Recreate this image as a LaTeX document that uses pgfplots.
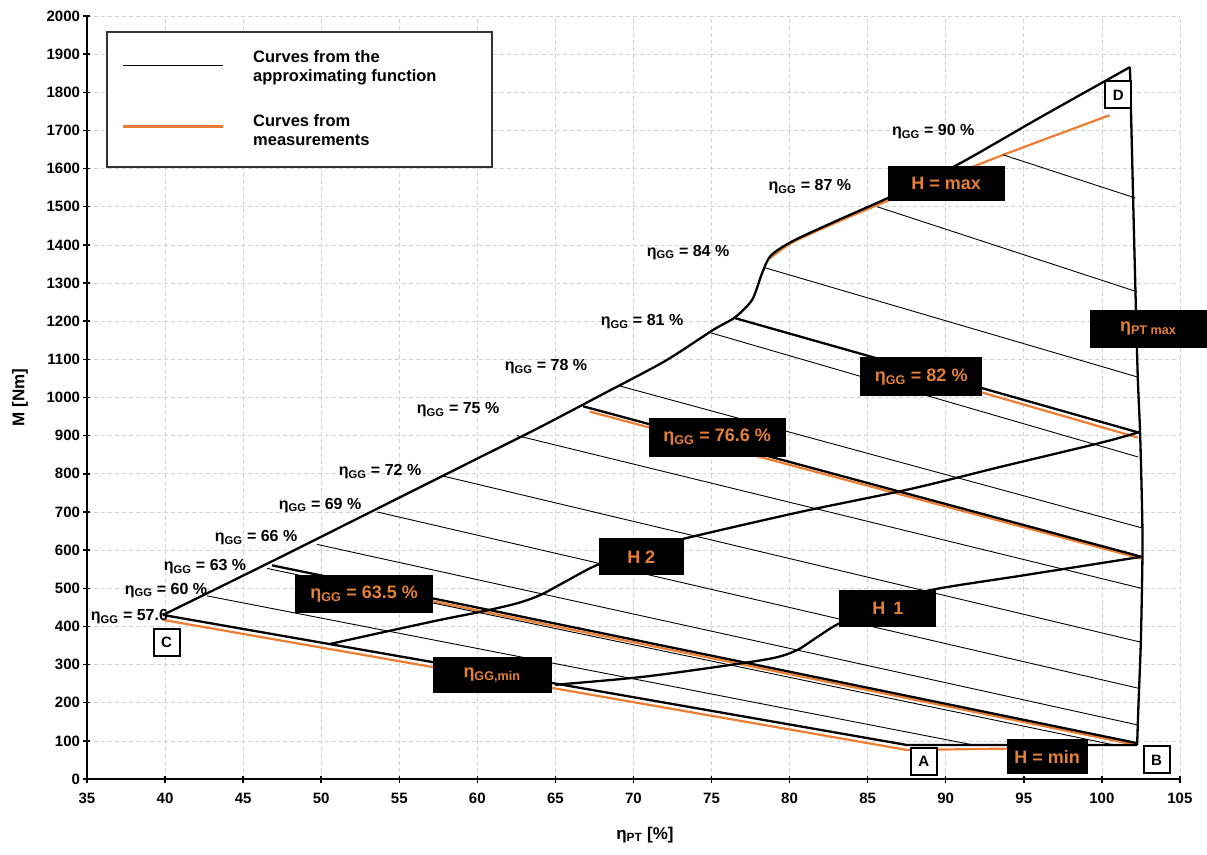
\documentclass[border=0pt]{standalone}
\usepackage{fontspec}
\setmainfont{Liberation Sans}
\usepackage{pgfplots}
\pgfplotsset{compat=1.18}
\definecolor{meas}{RGB}{237,125,49}
\definecolor{boxtxt}{RGB}{228,128,56}
\newcommand{\eG}{η\textsubscript{GG}}
\begin{document}
\begin{tikzpicture}[
  lbl/.style={font=\bfseries\fontsize{16}{18}\selectfont, inner sep=0pt, anchor=center},
  bx/.style={fill=black, text=boxtxt, font=\bfseries\fontsize{18}{20}\selectfont, inner sep=2pt, minimum height=36pt, anchor=center},
  wb/.style={draw=black, line width=2pt, fill=white, font=\bfseries\fontsize{15}{17}\selectfont, inner sep=0pt, minimum width=26pt, minimum height=27pt, anchor=center},
  thinl/.style={black, line width=0.9pt},
  thickl/.style={black, line width=2.3pt},
  orl/.style={meas, line width=2.2pt},
]
\begin{axis}[
  scale only axis, width=1093pt, height=763pt,
  xmin=35, xmax=105, ymin=0, ymax=2000,
  xtick={35,40,...,105}, ytick={0,100,...,2000},
  axis lines=left,
  axis line style={-, line width=2.5pt, black},
  tick align=center, major tick length=7pt,
  tick style={line width=1.5pt, black},
  grid=major,
  major grid style={gray!35, line width=0.6pt, dash pattern=on 4pt off 3pt},
  /pgf/number format/assume math mode=true,
  /pgf/number format/1000 sep={},
  ticklabel style={font=\bfseries\fontsize{15}{17}\selectfont},
  xticklabel style={yshift=-7pt},
  xlabel={η\textsubscript{PT} [\%]},
  ylabel={M [Nm]},
  xlabel style={font=\bfseries\fontsize{17}{19}\selectfont, at={(axis description cs:0.5105,-0.0734)}, anchor=center},
  ylabel style={font=\bfseries\fontsize{17}{19}\selectfont, at={(axis description cs:-0.0613,0.5)}, anchor=center},
  clip=false,
]
% ---- measured curves (orange) ----
\addplot[orl] coordinates {(39.87,417) (87.53,76) (94.5,80)};
\addplot[orl] coordinates {(52,509) (102.1,90)};
\addplot[orl] coordinates {(67.2,963) (102.5,578)};
\addplot[orl] coordinates {(86,1088) (102.3,895)};
\addplot[orl, smooth, tension=0.4] coordinates {(78.7,1364) (80.2,1407) (83,1459) (86.3,1516) (89,1560) (93.68,1636) (100.5,1740)};
% ---- approximating function (thin black) ----
\addplot[thinl] coordinates {(42.69,480) (91.8,89)};
\addplot[thinl] coordinates {(46.53,552) (100.8,89)};
\addplot[thinl] coordinates {(49.73,615) (102.26,142)};
\addplot[thinl] coordinates {(53.58,700) (102.33,238)};
\addplot[thinl] coordinates {(57.81,794) (102.46,359)};
\addplot[thinl] coordinates {(62.55,900) (102.52,500)};
\addplot[thinl] coordinates {(69.14,1030) (102.58,658)};
\addplot[thinl] coordinates {(74.91,1170) (102.33,844)};
\addplot[thinl] coordinates {(78.43,1340) (102.26,1054)};
\addplot[thinl] coordinates {(85.61,1500) (102.26,1277)};
\addplot[thinl] coordinates {(93.68,1636) (102.14,1523)};
% ---- thick black curves ----
\addplot[thickl] coordinates {(46.85,560) (102.26,94)};
\addplot[thickl] coordinates {(66.77,977) (102.58,582)};
\addplot[thickl] coordinates {(76.51,1208) (102.46,907)};
\addplot[thickl, smooth, tension=0.45] coordinates {(39.87,430) (44,513) (48,594) (52,676) (56,758) (60,840) (64,922) (68,1008) (72,1095) (75.1,1177) (76.5,1210) (77.6,1256) (78.24,1326) (78.8,1372) (80.2,1410) (83,1463) (86.3,1523) (90.7,1609) (96,1733) (101.8,1866)};
\addplot[thickl] coordinates {(39.87,430) (87.53,89) (102.26,89)};
\addplot[thickl, smooth, tension=0.5] coordinates {(101.8,1866) (102.0,1526) (102.15,1282) (102.3,1054) (102.45,907) (102.58,700) (102.6,582) (102.5,364) (102.35,200) (102.26,89)};
% H1 and H2
\addplot[thickl, smooth, tension=0.5] coordinates {(65.0,247) (70.43,267) (75.36,294) (78.95,317) (80.48,338) (81.77,372) (83.24,409) (86.2,458) (89.0,495) (95,534) (102.46,582)};
\addplot[thickl, smooth, tension=0.5] coordinates {(50.57,354) (54,385) (57.61,417) (60.18,438) (62.5,460) (64.02,482) (65.49,514) (67.67,561) (70.5,600) (73.44,632) (80.68,700) (87.72,760) (93.49,818) (99.9,881) (102.46,910)};
% ---- iso-efficiency labels ----
\node[lbl, anchor=east] at (axis cs:40.2,425) {\eG{} = 57.6};
\node[lbl] at (axis cs:40.06,495) {\eG{} = 60 \%};
\node[lbl] at (axis cs:42.56,556) {\eG{} = 63 \%};
\node[lbl] at (axis cs:45.83,632) {\eG{} = 66 \%};
\node[lbl] at (axis cs:49.93,718) {\eG{} = 69 \%};
\node[lbl] at (axis cs:53.77,805) {\eG{} = 72 \%};
\node[lbl] at (axis cs:58.77,967) {\eG{} = 75 \%};
\node[lbl] at (axis cs:64.40,1080) {\eG{} = 78 \%};
\node[lbl] at (axis cs:70.55,1198) {\eG{} = 81 \%};
\node[lbl] at (axis cs:73.5,1381) {\eG{} = 84 \%};
\node[lbl] at (axis cs:81.3,1552) {\eG{} = 87 \%};
\node[lbl] at (axis cs:89.2,1696) {\eG{} = 90 \%};
% ---- black boxes ----
\node[bx, minimum width=117pt, minimum height=35pt] at (axis cs:90.03,1560) {H = max};
\node[bx, minimum width=117pt, minimum height=38pt] at (axis cs:102.97,1180) {η\textsubscript{PT max}};
\node[bx, minimum width=122pt, minimum height=39pt] at (axis cs:88.43,1054) {\eG{} = 82 \%};
\node[bx, minimum width=137pt, minimum height=39pt] at (axis cs:75.36,896) {\eG{} = 76.6 \%};
\node[bx, minimum width=85pt, minimum height=37pt] at (axis cs:70.5,582) {H 2};
\node[bx, minimum width=97pt, minimum height=37pt] at (axis cs:86.3,448) {H\, 1};
\node[bx, minimum width=138pt, minimum height=38pt] at (axis cs:52.75,485) {\eG{} = 63.5 \%};
\node[bx, minimum width=119pt, minimum height=36pt] at (axis cs:60.94,273) {η\textsubscript{GG,min}};
\node[bx, minimum width=81pt, minimum height=35pt] at (axis cs:96.5,58) {H = min};
% ---- point markers ----
\node[wb] at (axis cs:88.6,47) {A};
\node[wb] at (axis cs:103.5,50) {B};
\node[wb] at (axis cs:40.1,359) {C};
\node[wb] at (axis cs:101.05,1793) {D};
\end{axis}
% ---- legend ----
\draw[line width=2pt, black!80, fill=white] (20pt,612pt) rectangle (405pt,747pt);
\draw[black, line width=0.9pt] (36pt,714pt) -- (136pt,714pt);
\draw[meas, line width=3pt] (36pt,652pt) -- (136pt,652pt);
\node[anchor=west, align=left, inner sep=0pt, font=\bfseries\fontsize{16.5}{19}\selectfont] at (166pt,711pt) {Curves from the\\approximating function};
\node[anchor=west, align=left, inner sep=0pt, font=\bfseries\fontsize{16.5}{19}\selectfont] at (166pt,649pt) {Curves from\\measurements};
\pgfresetboundingbox
\path[use as bounding box] (-87pt,-75pt) rectangle (1120pt,779pt);
\end{tikzpicture}
\end{document}
